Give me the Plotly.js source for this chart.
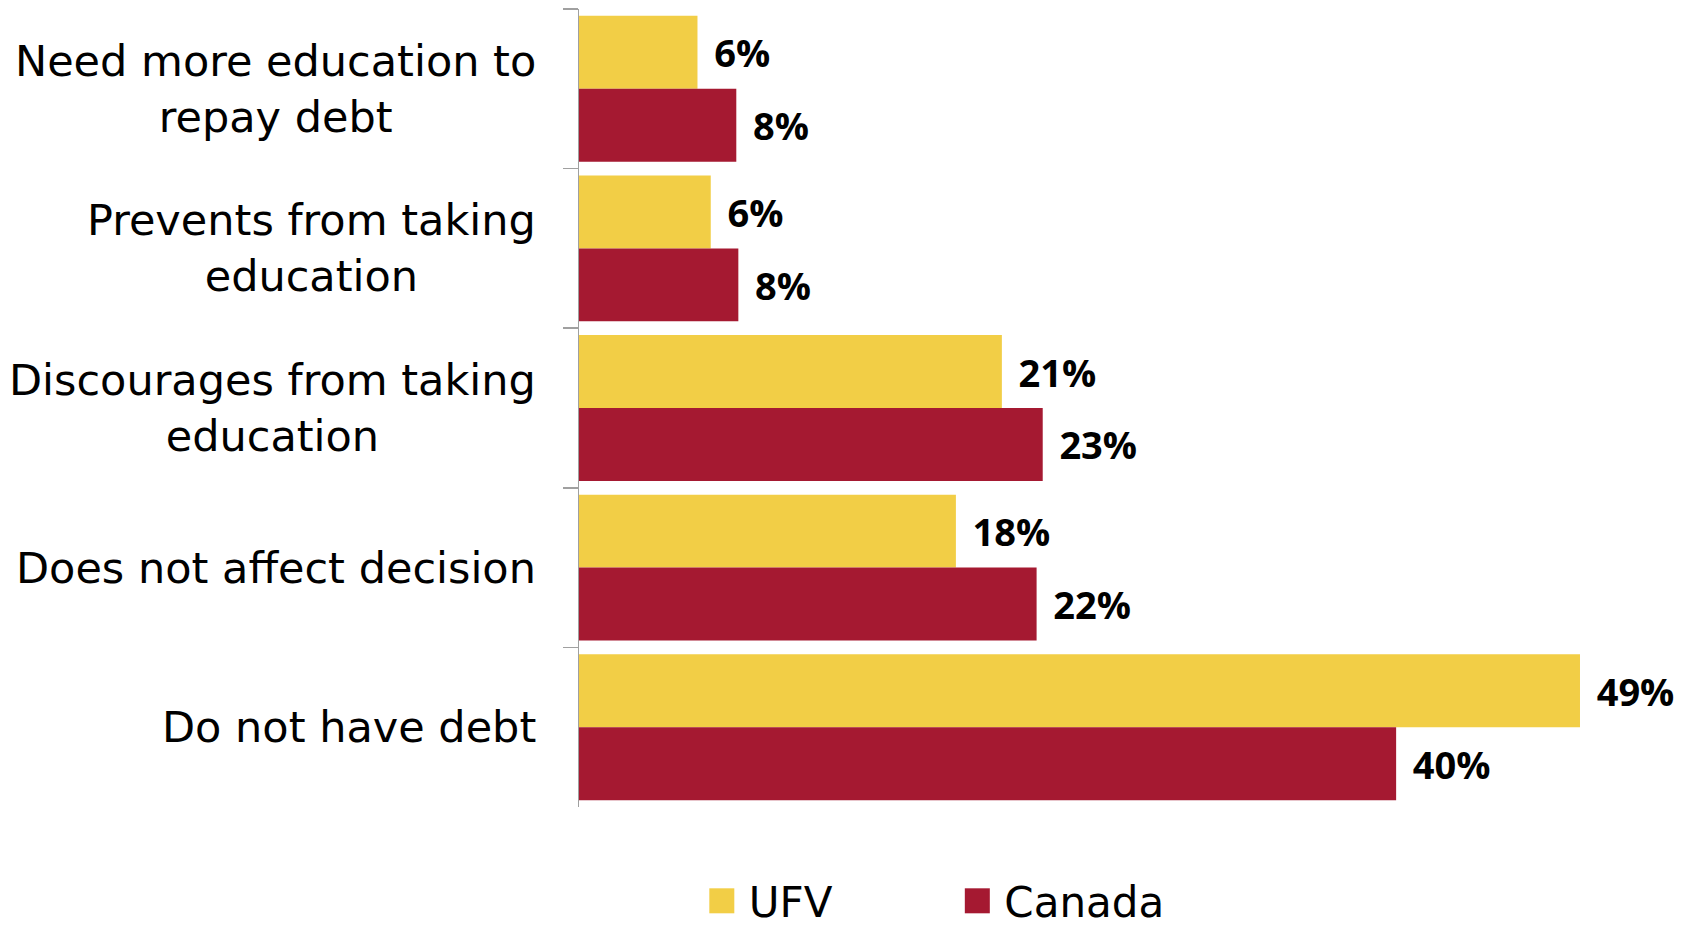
<!DOCTYPE html>
<html><head><meta charset="utf-8">
<script src="https://cdn.plot.ly/plotly-3.0.1.min.js"></script>
<style>html,body{margin:0;padding:0;background:#fff;}#chart{width:1683px;height:925px;}</style>
</head><body><div id="chart"></div>
<script>
const categories = ["Need more education to repay debt", "Prevents from taking education", "Discourages from taking education", "Does not affect decision", "Do not have debt"];
const categoryLabels = ["Need more education to<br>repay debt", "Prevents from taking<br>education", "Discourages from taking<br>education", "Does not affect decision", "Do not have debt"];
const seriesNames = ["UFV", "Canada"];
const ufvValues = [5.8, 6.45, 20.7, 18.45, 49.0];
const canadaValues = [7.7, 7.8, 22.7, 22.4, 40.0];
const seriesColors = ["#F2CE46", "#A51931"];

const seriesValues = [ufvValues, canadaValues];
const traces = seriesNames.map((name, i) => ({
  type: 'bar',
  orientation: 'h',
  name: name,
  y: categories,
  x: seriesValues[i],
  marker: {color: seriesColors[i], line: {width: 0}},
  texttemplate: '\u00A0\u200A%{x:.0f}%',
  textposition: 'outside',
  textfont: {family: 'Open Sans', size: 38, color: '#000', weight: 'bold'},
  cliponaxis: false,
  hoverinfo: 'skip'
}));

const annotations = categories.map((c, i) => ({
  xref: 'paper', x: 0, xshift: -41, xanchor: 'right',
  yref: 'y', y: c, yanchor: 'middle',
  text: categoryLabels[i], showarrow: false, align: 'center',
  font: {family: 'DejaVu Sans', size: 43, color: '#000'}
}));

const layout = {
  width: 1683, height: 925,
  margin: {l: 579, r: 93, t: 9, b: 118, pad: 0, autoexpand: false},
  paper_bgcolor: '#fff', plot_bgcolor: '#fff',
  barmode: 'group', bargap: 0.086, bargroupgap: 0,
  showlegend: true,
  legend: {
    orientation: 'h', x: 0.1284, xanchor: 'left', yref: 'container', y: 0.0627, yanchor: 'top',
    font: {family: 'DejaVu Sans', size: 42, color: '#000'},
    entrywidth: 210.5, entrywidthmode: 'pixels',
    bgcolor: 'rgba(0,0,0,0)', traceorder: 'normal'
  },
  xaxis: {range: [0, 49.49], visible: false, showgrid: false, zeroline: false, fixedrange: true},
  yaxis: {
    autorange: 'reversed', showline: true, linecolor: '#A0A0A0', linewidth: 1.5,
    ticks: 'outside', ticklen: 15, tickcolor: '#A0A0A0', tickwidth: 1.5,
    tickson: 'boundaries', showticklabels: false, showgrid: false, zeroline: false, fixedrange: true
  },
  annotations: annotations
};

Plotly.newPlot('chart', traces, layout, {staticPlot: true, displayModeBar: false}).then(gd => {
  gd.querySelectorAll('.legend .scrollbox').forEach(s => s.removeAttribute('clip-path'));
  gd.querySelectorAll('.legendpoints path').forEach(p => {
    p.setAttribute('d', 'M5.5,12.5H-19.5V-12.5H5.5Z');
  });
});
</script>
</body></html>
